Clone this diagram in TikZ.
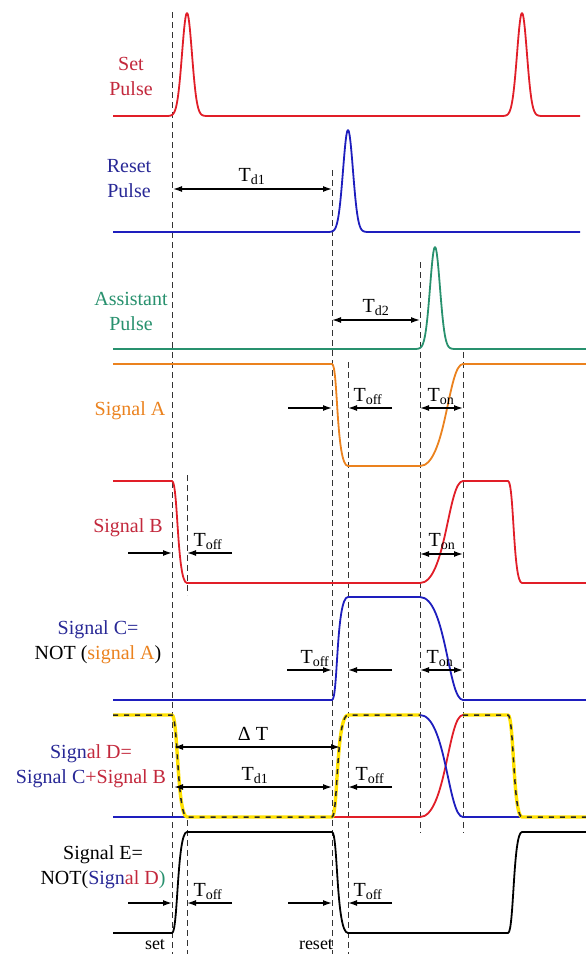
\documentclass[tikz,border=0pt]{standalone}
\usepackage{fontspec}
\setmainfont{Liberation Serif}
\usetikzlibrary{arrows.meta}
\definecolor{wred}{RGB}{225,30,40}
\definecolor{tred}{RGB}{195,40,60}
\definecolor{wblue}{RGB}{30,30,190}
\definecolor{tblue}{RGB}{40,40,150}
\definecolor{wgreen}{RGB}{40,145,110}
\definecolor{worange}{RGB}{235,130,30}
\definecolor{wyellow}{RGB}{255,225,0}
\tikzset{
  wave/.style={line width=1.8pt, line join=round},
  guide/.style={dash pattern=on 6pt off 4pt, line width=1pt, black!80},
  dimone/.style={line width=1.4pt, -{Latex[length=9pt,width=6pt]}},
  dimtwo/.style={line width=1.4pt, {Latex[length=9pt,width=6pt]}-{Latex[length=9pt,width=6pt]}},
  lbl/.style={font=\fontsize{20}{25}\selectfont, align=center, inner sep=0pt},
  tlbl/.style={font=\fontsize{20}{24}\selectfont, inner sep=0pt, anchor=base},
  small/.style={font=\fontsize{18}{20}\selectfont, inner sep=0pt},
  dyellow/.style={line width=3.4pt, wyellow, line join=round},
  ddash/.style={line width=1.5pt, black!85, dash pattern=on 5pt off 6pt, line join=round}
}
\begin{document}
\begin{tikzpicture}[x=1pt,y=-1pt]
\fill[white] (0,0) rectangle (586,954);
\useasboundingbox (0,0) rectangle (586,954);

% guide lines
\draw[guide] (172,12) -- (172,954);
\draw[guide] (187,475) -- (187,595);
\draw[guide] (187,820) -- (187,954);
\draw[guide] (332,170) -- (332,954);
\draw[guide] (348,362) -- (348,954);
\draw[guide] (420,262) -- (420,833);
\draw[guide] (463,352) -- (463,833);

% Set pulse
\draw[wave,wred] (113,116) -- (165,116)
  plot[domain=165:209,samples=70] (\x,{116-103*exp(-((\x-187)/7)^2)})
  -- (500,116)
  plot[domain=500:544,samples=70] (\x,{116-103*exp(-((\x-522)/7)^2)})
  -- (580,116);
% Reset pulse
\draw[wave,wblue] (113,232) -- (326,232)
  plot[domain=326:370,samples=70] (\x,{232-102*exp(-((\x-348)/7)^2)})
  -- (580,232);
% Assistant pulse
\draw[wave,wgreen] (113,349) -- (413,349)
  plot[domain=413:457,samples=70] (\x,{349-102*exp(-((\x-435)/7)^2)})
  -- (586,349);

% Signal A
\draw[wave,worange] (113,364) -- (332,364) .. controls (338,364) and (336,466) .. (348,466)
  -- (420,466) .. controls (446,466) and (448,364) .. (463,364) -- (586,364);
% Signal B
\draw[wave,wred] (113,481) -- (172,481) .. controls (178,481) and (177,583) .. (187,583)
  -- (420,583) .. controls (446,583) and (448,481) .. (463,481) -- (508,481)
  .. controls (514,481) and (513,583) .. (522,583) -- (586,583);
% Signal C
\draw[wave,wblue] (113,700) -- (332,700) .. controls (338,700) and (336,597) .. (348,597)
  -- (420,597) .. controls (446,597) and (448,700) .. (463,700) -- (586,700);
% Signal D: copies of B and C
\draw[wave,wred] (113,715) -- (172,715) .. controls (178,715) and (177,817) .. (187,817)
  -- (420,817) .. controls (446,817) and (448,715) .. (463,715) -- (508,715)
  .. controls (514,715) and (513,817) .. (522,817) -- (586,817);
\draw[wave,wblue] (113,817) -- (332,817) .. controls (338,817) and (336,715) .. (348,715)
  -- (420,715) .. controls (446,715) and (448,817) .. (463,817) -- (586,817);
% Signal D overlay
\draw[dyellow] (113,715) -- (172,715) .. controls (178,715) and (177,817) .. (187,817)
    -- (332,817) .. controls (338,817) and (336,715) .. (348,715) -- (420,715);
\draw[dyellow] (463,715) -- (508,715)
    .. controls (514,715) and (513,817) .. (522,817) -- (586,817);
\draw[ddash] (113,715) -- (172,715) .. controls (178,715) and (177,817) .. (187,817)
    -- (332,817) .. controls (338,817) and (336,715) .. (348,715) -- (420,715);
\draw[ddash] (463,715) -- (508,715)
    .. controls (514,715) and (513,817) .. (522,817) -- (586,817);
% Signal E
\draw[wave,black] (113,933) -- (172,933) .. controls (178,933) and (177,832) .. (187,832)
  -- (332,832) .. controls (338,832) and (336,933) .. (348,933) -- (508,933)
  .. controls (514,933) and (513,832) .. (522,832) -- (586,832);

% labels left
\node[lbl,tred] (setlbl) at (131,76) {Set\\Pulse};
\node[lbl,tblue] (resetlbl) at (129,179) {Reset\\Pulse};
\node[lbl,wgreen] (asslbl) at (131,311) {Assistant\\Pulse};
\node[lbl,worange] (alb) at (130,411) {Signal A};
\node[lbl,tred] (blb) at (128,528) {Signal B};
\node[lbl] (clb) at (98,642) {\textcolor{tblue}{Signal C=}\\NOT (\textcolor{worange}{signal A})};
\node[lbl] (dlb) at (91,766) {\textcolor{tblue}{Sign}\textcolor{tred}{al D=}\\\textcolor{tblue}{Signal C}\textcolor{tred}{+Signal B}};
\node[lbl] (elb) at (103,867) {Signal E=\\NOT(\textcolor{tblue}{Sign}\textcolor{tred}{al D}\textcolor{wgreen}{)}};

% Td1 top
\draw[dimtwo] (173,189) -- (332,189);
\node[tlbl] (td1a) at (252,181) {T\textsubscript{d1}};
% Td2
\draw[dimtwo] (332,320) -- (420,320);
\node[tlbl] (td2) at (376,312) {T\textsubscript{d2}};
% Signal A
\draw[dimone] (288,408) -- (332,408);
\draw[dimone] (392,408) -- (348,408);
\node[tlbl] (atoff) at (368,401) {T\textsubscript{off}};
\draw[dimtwo] (420,408) -- (463,408);
\node[tlbl] (aton) at (441,401) {T\textsubscript{on}};
% Signal B
\draw[dimone] (128,553) -- (172,553);
\draw[dimone] (232,553) -- (187,553);
\node[tlbl] (btoff) at (208,546) {T\textsubscript{off}};
\draw[dimtwo] (420,554) -- (463,554);
\node[tlbl] (bton) at (442,546) {T\textsubscript{on}};
% Signal C
\draw[dimone] (287,670) -- (332,670);
\node[tlbl] (ctoff) at (315,663) {T\textsubscript{off}};
\draw[dimone] (392,670) -- (348,670);
\draw[dimtwo] (420,670) -- (463,670);
\node[tlbl] (cton) at (440,663) {T\textsubscript{on}};
% Signal D
\draw[dimtwo] (174,747) -- (340,747);
\node[tlbl] (dt) at (253,740) {Δ T};
\draw[dimtwo] (174,787) -- (332,787);
\node[tlbl] (td1b) at (255,780) {T\textsubscript{d1}};
\draw[dimone] (392,787) -- (348,787);
\node[tlbl] (dtoff) at (370,780) {T\textsubscript{off}};
% Signal E
\draw[dimone] (128,903) -- (172,903);
\draw[dimone] (232,903) -- (187,903);
\node[tlbl] (etoff1) at (208,896) {T\textsubscript{off}};
\draw[dimone] (288,903) -- (332,903);
\draw[dimone] (392,903) -- (348,903);
\node[tlbl] (etoff2) at (368,896) {T\textsubscript{off}};
\node[small] (setw) at (155,945) {set};
\node[small] (resetw) at (316,945) {reset};
\end{tikzpicture}
\end{document}
